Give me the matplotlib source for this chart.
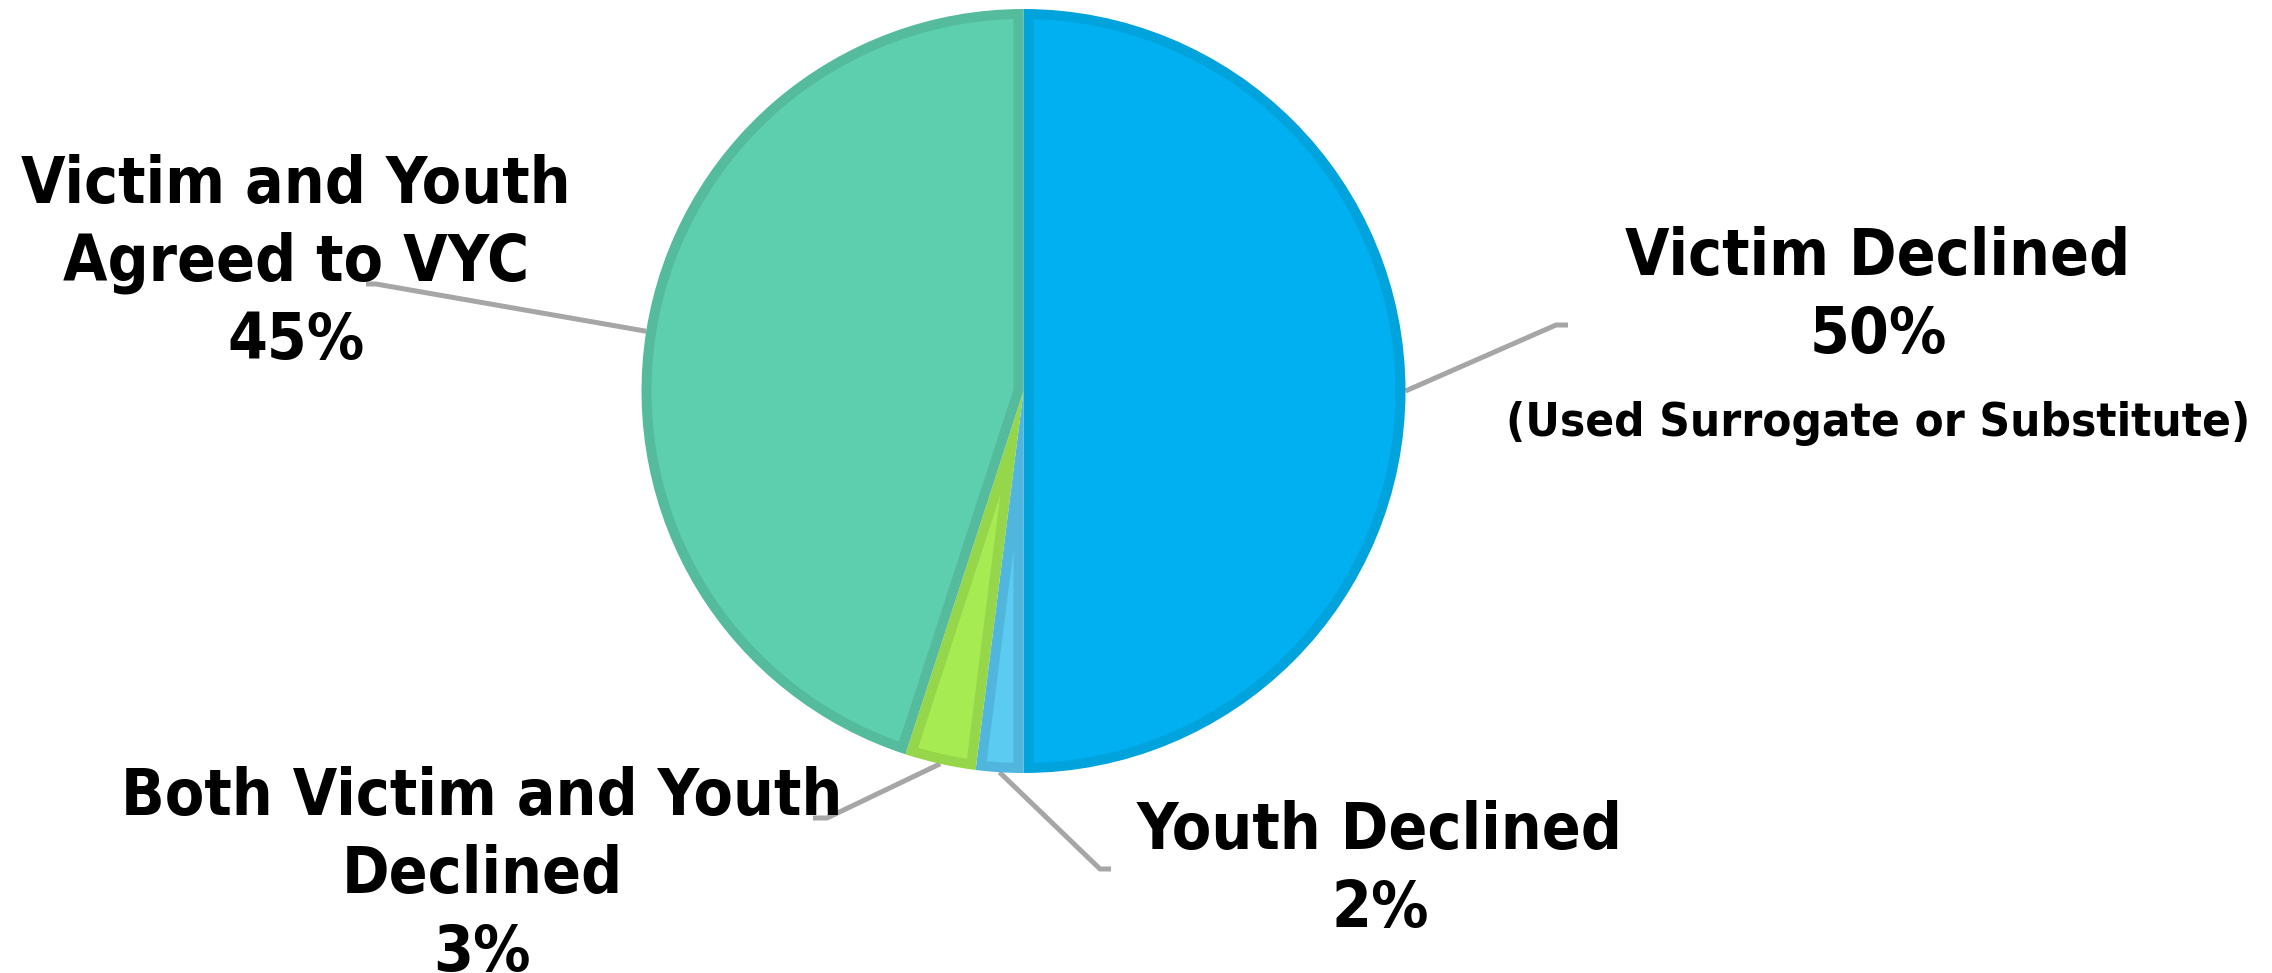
import numpy as np
import matplotlib.pyplot as plt
from matplotlib.patches import Polygon

# Outcome shares for the conferences
labels = ['Victim Declined', 'Youth Declined', 'Both Victim and Youth\nDeclined',
          'Victim and Youth\nAgreed to VYC']
shares = [50, 2, 3, 45]
note = '(Used Surrogate or Substitute)'
fills = ['#00B0F0', '#5BCBF2', '#A5EB51', '#5ECFAE']
borders = ['#00A3DC', '#50B6DE', '#96D64A', '#54BB9C']

W, H = 2272, 973
fig = plt.figure(figsize=(W / 100, H / 100), dpi=100)
ax = fig.add_axes([0, 0, 1, 1])

cx, cy, r = 1023.5, 582, 382
inset = 10  # width of the darker rim drawn inside every slice

# slices in the rim colour, then a lighter inset shape on top of each
wedges, _ = ax.pie(shares, colors=borders, startangle=90, counterclock=False,
                   radius=r, center=(cx, cy), wedgeprops=dict(linewidth=0))


def inner_shape(t1, t2):
    t1, t2 = np.deg2rad(t1), np.deg2rad(t2)
    half = (t2 - t1) / 2
    mid = t1 + half
    apex = inset / np.sin(half) * np.array([np.cos(mid), np.sin(mid)])
    rr = r - inset
    ends = []
    for t in (t1, t2):
        u = np.array([np.cos(t), np.sin(t)])
        b = apex @ u
        s = -b + np.sqrt(b * b - apex @ apex + rr * rr)
        p = apex + s * u
        ends.append(np.arctan2(p[1], p[0]))
    a1, a2 = ends
    if a2 < a1:
        a2 += 2 * np.pi
    arc = np.linspace(a1, a2, 200)
    pts = np.vstack([apex, np.column_stack([rr * np.cos(arc), rr * np.sin(arc)])])
    return pts + [cx, cy]


for w, fc in zip(wedges, fills):
    ax.add_patch(Polygon(inner_shape(w.theta1, w.theta2), closed=True,
                         facecolor=fc, edgecolor='none'))

ax.set_xlim(0, W)
ax.set_ylim(0, H)
ax.set_aspect('auto')
ax.axis('off')

font = dict(family='DejaVu Sans', fontstretch='condensed', weight='bold',
            color='black', ha='center', va='center')

# label position, elbow of the leader line, end of the stub
layout = [
    ((1878, 677), (1556, 648), (1568, 648)),
    ((1380, 103), (1100, 104), (1111, 104)),
    ((482, 98), (827, 155), (813, 155)),
    ((296, 710), (376, 689), (366, 689)),
]

for w, lab, val, (pos, elbow, stub) in zip(wedges, labels, shares, layout):
    mid = np.deg2rad((w.theta1 + w.theta2) / 2)
    x0, y0 = cx + r * np.cos(mid), cy + r * np.sin(mid)
    ax.plot([x0, elbow[0], stub[0]], [y0, elbow[1], stub[1]],
            color='#A6A6A6', lw=3.6, solid_capstyle='butt', zorder=0.5)
    ax.text(pos[0], pos[1], f'{lab}\n{val}%', fontsize=46, linespacing=1.32, **font)

ax.text(1878, 550, note, fontsize=34, **font)

fig.savefig('out.png', dpi=100)
